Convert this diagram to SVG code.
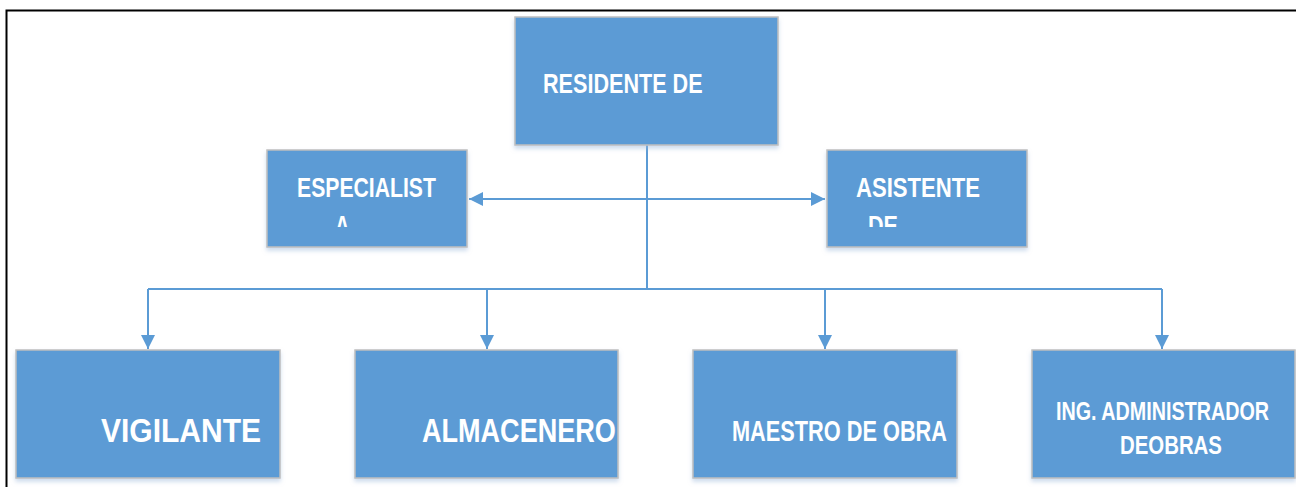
<svg xmlns="http://www.w3.org/2000/svg" width="1296" height="487" viewBox="0 0 1296 487">
<style>
.box{fill:#5B9BD5;stroke:#BFBFBF;stroke-width:1.5;filter:url(#sh)}
.t{fill:#fff;font-family:"Liberation Sans",Arial,sans-serif;font-weight:bold}
.c{fill:none;stroke:#5B9BD5;stroke-width:2}
</style>
<defs>
<filter id="sh" x="-5%" y="-5%" width="110%" height="120%">
<feDropShadow dx="0" dy="3" stdDeviation="2" flood-color="#9DB9DB" flood-opacity="0.5"/>
</filter>
<marker id="ah" markerUnits="userSpaceOnUse" markerWidth="16" markerHeight="16" viewBox="0 0 16 16" refX="14" refY="8" orient="auto">
<path d="M0,1 L14,8 L0,15 Z" fill="#5B9BD5"/>
</marker>
<clipPath id="cl1"><rect x="267" y="150" width="200" height="77"/></clipPath>
<clipPath id="cl2"><rect x="827" y="150" width="200" height="77"/></clipPath>
</defs>
<rect x="6.5" y="10.5" width="1300" height="500" fill="#fff" stroke="#000" stroke-width="2"/>
<g id="connectors">
<path class="c" d="M647,145 V289"/>
<path class="c" d="M148,289 H1162"/>
<path class="c" d="M148,289 V349" marker-end="url(#ah)"/>
<path class="c" d="M487,289 V349" marker-end="url(#ah)"/>
<path class="c" d="M825,289 V349" marker-end="url(#ah)"/>
<path class="c" d="M1162,289 V349" marker-end="url(#ah)"/>
<path class="c" d="M647,199 H469" marker-end="url(#ah)"/>
<path class="c" d="M647,199 H825" marker-end="url(#ah)"/>
</g>
<g id="residente">
<rect class="box" x="515" y="17" width="263" height="128"/>
<text class="t" transform="translate(543,93) scale(0.8,1)" font-size="27">RESIDENTE DE</text>
</g>
<g id="especialista">
<rect class="box" x="267" y="150" width="200" height="97"/>
<g clip-path="url(#cl1)">
<text class="t" transform="translate(297,197) scale(0.757,1)" font-size="28">ESPECIALIST</text>
<text class="t" transform="translate(335,235) scale(0.72,1)" font-size="28">A</text>
</g>
</g>
<g id="asistente">
<rect class="box" x="827" y="150" width="200" height="97"/>
<g clip-path="url(#cl2)">
<text class="t" transform="translate(856,197) scale(0.79,1)" font-size="28">ASISTENTE</text>
<text class="t" transform="translate(868,235) scale(0.77,1)" font-size="28">DE</text>
</g>
</g>
<g id="vigilante">
<rect class="box" x="16" y="350" width="264" height="128"/>
<text class="t" transform="translate(101,442) scale(0.91,1)" font-size="33">VIGILANTE</text>
</g>
<g id="almacenero">
<rect class="box" x="355" y="350" width="263" height="128"/>
<text class="t" transform="translate(422,442) scale(0.82,1)" font-size="33">ALMACENERO</text>
</g>
<g id="maestro">
<rect class="box" x="693" y="350" width="264" height="128"/>
<text class="t" transform="translate(732,441) scale(0.725,1)" font-size="30">MAESTRO DE OBRA</text>
</g>
<g id="ing">
<rect class="box" x="1032" y="350" width="263" height="128"/>
<text class="t" transform="translate(1056,420) scale(0.79,1)" font-size="25">ING. ADMINISTRADOR</text>
<text class="t" transform="translate(1120,454) scale(0.816,1)" font-size="25">DEOBRAS</text>
</g>
</svg>
